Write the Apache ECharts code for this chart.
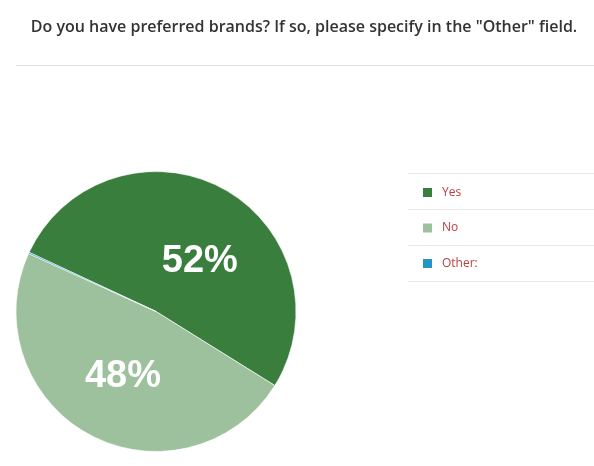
<!DOCTYPE html>
<html>
<head>
<meta charset="utf-8">
<script src="https://cdn.jsdelivr.net/npm/echarts@6/dist/echarts.min.js"></script>
<style>
html,body{margin:0;padding:0;background:#fff;}
#chart{width:594px;height:466px;}
</style>
</head>
<body>
<div id="chart"></div>
<script>
const titleText = 'Do you have preferred brands? If so, please specify in the "Other" field.';
const categories = ['Yes', 'No', 'Other:'];
const values = [52, 48, 0.15];
const colors = ['#3a7e3e', '#9dc09d', '#2196c4'];

const chart = echarts.init(document.getElementById('chart'));
chart.setOption({
  animation: false,
  title: {
    text: titleText,
    left: 299, top: 14, textAlign: 'center',
    textStyle: { fontFamily: 'Open Sans', fontSize: 16, fontWeight: 600, color: '#333' }
  },
  color: colors,
  legend: {
    orient: 'vertical',
    left: 416, top: 181,
    itemWidth: 11, itemHeight: 11, itemGap: 22.5,
    icon: 'rect',
    selectedMode: false,
    data: categories,
    textStyle: { fontFamily: 'Open Sans', fontSize: 12, color: '#b5403f', padding: [0, 0, 0, 4] }
  },
  graphic: [
    { type: 'line', shape: { x1: 16, y1: 65.5, x2: 594, y2: 65.5 }, style: { stroke: '#e2e2e2', lineWidth: 1 } },
    { type: 'line', shape: { x1: 408, y1: 173.5, x2: 594, y2: 173.5 }, style: { stroke: '#e8e8e8', lineWidth: 1 } },
    { type: 'line', shape: { x1: 408, y1: 209.5, x2: 594, y2: 209.5 }, style: { stroke: '#e8e8e8', lineWidth: 1 } },
    { type: 'line', shape: { x1: 408, y1: 245.5, x2: 594, y2: 245.5 }, style: { stroke: '#e8e8e8', lineWidth: 1 } },
    { type: 'line', shape: { x1: 408, y1: 281.5, x2: 594, y2: 281.5 }, style: { stroke: '#e8e8e8', lineWidth: 1 } }
  ],
  series: [{
    type: 'pie',
    center: [156, 311.5],
    radius: [0, 140],
    startAngle: 155,
    clockwise: true,
    minAngle: 0,
    avoidLabelOverlap: false,
    itemStyle: { borderColor: '#ffffff', borderWidth: 0.6 },
    label: {
      show: true,
      position: 'inside',
      formatter: function (p) { return p.dataIndex === 2 ? '' : Math.round(p.percent) + '%'; },
      fontFamily: 'Liberation Sans, Arial, sans-serif',
      fontSize: 38,
      fontWeight: 'bold',
      color: '#ffffff'
    },
    labelLine: { show: false },
    labelLayout: function (p) { return p.dataIndex === 0 ? { dx: 9, dy: 14 } : { dx: 1.5, dy: 0.5 }; },
    emphasis: { disabled: true },
    data: categories.map(function (c, i) { return { name: c, value: values[i] }; })
  }]
});
</script>
</body>
</html>
